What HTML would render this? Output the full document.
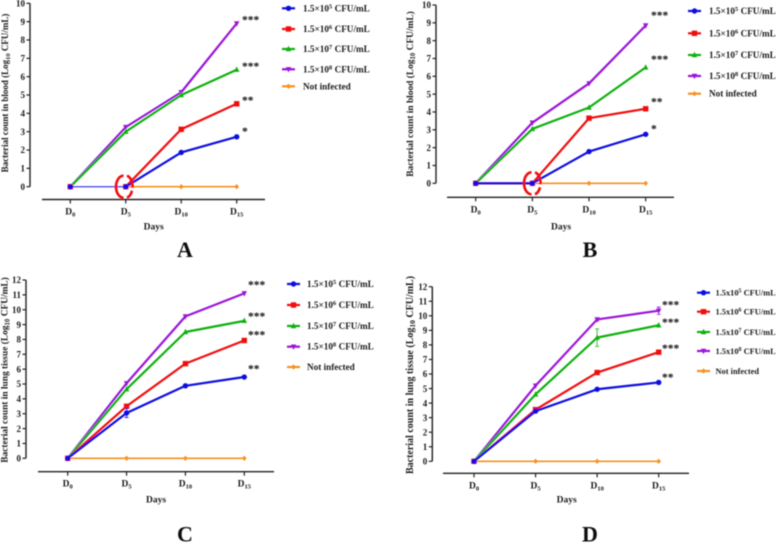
<!DOCTYPE html>
<html lang="en">
<head>
<meta charset="utf-8">
<title>Bacterial count in blood and lung tissue</title>
<style>
html,body{margin:0;padding:0;background:#fff;}
svg{display:block;width:777px;height:543px;}
text{font-family:"Liberation Serif",serif;font-weight:bold;fill:#1c1c1c;}
</style>
</head>
<body>
<svg id="figure" xmlns="http://www.w3.org/2000/svg" width="777" height="543" viewBox="0 0 777 543">
<defs><filter id="soft" x="-5%" y="-5%" width="110%" height="110%"><feGaussianBlur stdDeviation="0.4"/></filter></defs>
<g id="root" filter="url(#soft)"></g>
</svg>
<script>
const days = ['0', '5', '10', '15'];
const seriesNames = ['1.5e5', '1.5e6', '1.5e7', '1.5e8', 'not-infected'];
const exponents = ['5', '6', '7', '8'];

const panelAOrange = [0, 0, 0, 0];
const panelAPurple = [0, 3.25, 5.15, 8.9];
const panelAGreen = [0, 3, 5, 6.38];
const panelARed = [0, 0, 3.13, 4.52];
const panelABlue = [0, 0, 1.87, 2.72];
const panelAStarLevels = [3, 4.7, 6.55, 9.1];

const panelBOrange = [0, 0, 0, 0];
const panelBPurple = [0, 3.4, 5.6, 8.85];
const panelBGreen = [0, 3.05, 4.25, 6.5];
const panelBRed = [0, 0, 3.65, 4.18];
const panelBBlue = [0, 0, 1.78, 2.75];
const panelBStarLevels = [3.05, 4.55, 6.95, 9.4];

const panelCOrange = [0, 0, 0, 0];
const panelCPurple = [0, 5.05, 9.55, 11.1];
const panelCGreen = [0, 4.65, 8.5, 9.25];
const panelCRed = [0, 3.5, 6.37, 7.93];
const panelCBlue = [0, 3.05, 4.88, 5.47];
const panelCBlueError = [0, 0.3, 0.05, 0.05];
const panelCStarLevels = [6, 8.3, 9.55, 11.65];

const panelDOrange = [0, 0, 0, 0];
const panelDPurple = [0, 5.2, 9.75, 10.35];
const panelDPurpleError = [0, 0.05, 0.1, 0.25];
const panelDGreen = [0, 4.6, 8.5, 9.35];
const panelDGreenError = [0, 0.05, 0.6, 0.05];
const panelDRed = [0, 3.55, 6.1, 7.5];
const panelDBlue = [0, 3.45, 4.95, 5.42];
const panelDStarLevels = [5.75, 7.75, 9.55, 10.75];

const colors = {blue: '#1010e0', red: '#f01010', green: '#10b010', purple: '#9a18d8', orange: '#f79020', axis: '#222222'};
const NS = 'http://www.w3.org/2000/svg';
const root = document.getElementById('root');

function make(tag, attrs, parent) {
  const el = document.createElementNS(NS, tag);
  for (const k in attrs) el.setAttribute(k, attrs[k]);
  (parent || root).appendChild(el);
  return el;
}

function marker(group, kind, x, y, color) {
  const r = 2.7;
  let el;
  if (kind === 'circle') el = make('circle', {cx: x, cy: y, r: r, fill: color}, group);
  if (kind === 'square') el = make('rect', {x: x - r, y: y - r, width: 2 * r, height: 2 * r, fill: color}, group);
  if (kind === 'up') el = make('polygon', {points: `${x},${y - r - 0.5} ${x + r},${y + r - 0.5} ${x - r},${y + r - 0.5}`, fill: color}, group);
  if (kind === 'down') el = make('polygon', {points: `${x},${y + r + 0.5} ${x + r},${y - r + 0.5} ${x - r},${y - r + 0.5}`, fill: color}, group);
  if (kind === 'diamond') el = make('polygon', {points: `${x},${y - r} ${x + r - 0.4},${y} ${x},${y + r} ${x - r + 0.4},${y}`, fill: color}, group);
  
  
}

function drawPanel(cfg) {
  const panel = make('g', {});
  
  
  const xScale = i => cfg.x0 + i * (cfg.x3 - cfg.x0) / (days.length - 1);
  const yScale = v => cfg.y0 - v * (cfg.y0 - cfg.yTop) / cfg.yMax;

  const yAxis = make('line', {x1: cfg.axisX, x2: cfg.axisX, y1: cfg.yTop, y2: cfg.y0, stroke: colors.axis, 'stroke-width': 1.4}, panel);
  
  
  for (let v = 0; v <= cfg.yMax; v++) {
    const tick = make('line', {x1: cfg.axisX - 3.5, x2: cfg.axisX, y1: yScale(v), y2: yScale(v), stroke: colors.axis, 'stroke-width': 1.2}, panel);
    
    
    const label = make('text', {x: cfg.axisX - 5, y: yScale(v) + 3.2, 'text-anchor': 'end', 'font-size': 9}, panel);
    label.textContent = String(v);
    
    
  }

  const xAxis = make('line', {x1: cfg.xAxisStart, x2: cfg.xAxisEnd, y1: cfg.xAxisY, y2: cfg.xAxisY, stroke: colors.axis, 'stroke-width': 1.4}, panel);
  
  
  days.forEach((d, i) => {
    const tick = make('line', {x1: xScale(i), x2: xScale(i), y1: cfg.xAxisY, y2: cfg.xAxisY + 4, stroke: colors.axis, 'stroke-width': 1.2}, panel);
    
    
    const label = make('text', {x: xScale(i), y: cfg.xAxisY + 15, 'text-anchor': 'middle', 'font-size': 9.5}, panel);
    
    
    make('tspan', {}, label).textContent = 'D';
    make('tspan', {dy: 2, 'font-size': 6.5}, label).textContent = d;
  });

  const xTitle = make('text', {x: cfg.daysX, y: cfg.daysY, 'text-anchor': 'middle', 'font-size': 9.5}, panel);
  xTitle.textContent = 'Days';
  
  

  const yTitle = make('text', {transform: `translate(${cfg.titleX},${cfg.titleY}) rotate(-90)`, 'text-anchor': 'middle', 'font-size': cfg.titleSize}, panel);
  
  
  make('tspan', {}, yTitle).textContent = 'Bacterial count in ' + cfg.tissue + ' (Log';
  make('tspan', {dy: 2, 'font-size': cfg.titleSize - 2.5}, yTitle).textContent = '10';
  make('tspan', {dy: -2}, yTitle).textContent = ' CFU/mL)';

  cfg.series.forEach(s => {
    const g = make('g', {}, panel);
    
    
    const flatStart = cfg.thinFirst && s.values[0] === s.values[1];
    const first = flatStart ? 1 : 0;
    const pts = s.values.map((v, i) => xScale(i) + ',' + yScale(v)).slice(first).join(' ');
    const line = make('polyline', {points: pts, fill: 'none', stroke: s.color, 'stroke-width': s.width || 2.2, 'stroke-linejoin': 'round'}, g);
    
    
    if (flatStart && s.color === colors.blue) {
      const thin = make('line', {x1: xScale(0), x2: xScale(1), y1: yScale(s.values[0]), y2: yScale(s.values[1]), stroke: s.color, 'stroke-width': 1}, g);
      
      
    }
    if (s.error) s.error.forEach((e, i) => {
      if (e < 0.1) return;
      const x = xScale(i);
      const hi = yScale(s.values[i] + e);
      const lo = yScale(s.values[i] - e);
      const bar = make('path', {d: `M${x},${hi}V${lo}M${x - 2},${hi}H${x + 2}M${x - 2},${lo}H${x + 2}`, fill: 'none', stroke: s.color, 'stroke-width': 0.8}, g);
      
      
    });
    s.values.forEach((v, i) => marker(g, s.kind, xScale(i), yScale(v), s.color));
  });

  cfg.stars.forEach((txt, i) => {
    const star = make('text', {x: cfg.starX, y: yScale(cfg.starLevels[i]) + 3.5, 'font-size': 11.5}, panel);
    star.textContent = txt;
    star.style.fill = '#111';
    
    
  });

  cfg.legendOrder.forEach((s, i) => {
    const y = cfg.legendY[i];
    const entry = make('g', {}, panel);
    
    
    make('line', {x1: cfg.swatchX, x2: cfg.swatchX + 13, y1: y, y2: y, stroke: s.color, 'stroke-width': 2.2}, entry);
    marker(entry, s.kind, cfg.swatchX + 6.5, y, s.color);
    const t = make('text', {x: cfg.swatchX + cfg.textGap, y: y + 3, 'font-size': cfg.legendSize}, entry);
    if (i < exponents.length) {
      make('tspan', {}, t).textContent = '1.5' + cfg.times + '10';
      make('tspan', {dy: -3, 'font-size': cfg.legendSize - 2.5}, t).textContent = exponents[i];
      make('tspan', {dy: 3}, t).textContent = ' CFU/mL';
    } else {
      t.textContent = 'Not infected';
    }
  });

  const letter = make('text', {x: cfg.letterX, y: cfg.letterY, 'text-anchor': 'middle', 'font-size': 22}, panel);
  letter.textContent = cfg.letter;
  letter.style.fill = '#111';
  
  

  if (cfg.circleX) {
    const cx = cfg.circleX;
    const cy = yScale(0);
    const arcs = `M${cx - 1.5},${cy - 11}A7.5,11 0 0 0 ${cx - 1.5},${cy + 11}M${cx + 2},${cy - 11}A7.5,11 0 0 1 ${cx + 7.5},${cy + 1}M${cx + 7},${cy + 4}A7.5,11 0 0 1 ${cx + 2},${cy + 11}`;
    const c = make('path', {d: arcs, fill: 'none', stroke: '#ee1111', 'stroke-width': 2.6}, panel);
    
    
  }
}

function seriesOf(o, p, g, r, b, extra) {
  const e = extra || {};
  const orange = {name: seriesNames[4], color: colors.orange, kind: 'diamond', values: o, width: 1.6};
  const purple = {name: seriesNames[3], color: colors.purple, kind: 'down', values: p, error: e.purple};
  const green = {name: seriesNames[2], color: colors.green, kind: 'up', values: g, error: e.green};
  const red = {name: seriesNames[1], color: colors.red, kind: 'square', values: r};
  const blue = {name: seriesNames[0], color: colors.blue, kind: 'circle', values: b, error: e.blue};
  return {draw: [orange, purple, green, red, blue], legend: [blue, red, green, purple, orange]};
}

const sA = seriesOf(panelAOrange, panelAPurple, panelAGreen, panelARed, panelABlue);
const sB = seriesOf(panelBOrange, panelBPurple, panelBGreen, panelBRed, panelBBlue);
const sC = seriesOf(panelCOrange, panelCPurple, panelCGreen, panelCRed, panelCBlue, {blue: panelCBlueError});
const sD = seriesOf(panelDOrange, panelDPurple, panelDGreen, panelDRed, panelDBlue, {purple: panelDPurpleError, green: panelDGreenError});
const starTextsAB = ['*', '**', '***', '***'];
const starTextsCD = ['**', '***', '***', '***'];

drawPanel({letter: 'A', tissue: 'blood', yMax: 10, axisX: 30, yTop: 3.3, y0: 186.7, xAxisY: 199.5, xAxisStart: 42, xAxisEnd: 265,
  x0: 70.3, x3: 236.7, daysX: 153.7, daysY: 229.5, titleX: 8, titleY: 93, titleSize: 9,
  series: sA.draw, legendOrder: sA.legend, legendY: [8.3, 29, 49, 69.3, 86.3], swatchX: 282, textGap: 21, legendSize: 9.2, times: '×',
  stars: starTextsAB, starLevels: panelAStarLevels, starX: 242, letterX: 185, letterY: 257, circleX: 125, thinFirst: true});

drawPanel({letter: 'B', tissue: 'blood', yMax: 10, axisX: 436, yTop: 5, y0: 183.3, xAxisY: 197.3, xAxisStart: 447, xAxisEnd: 674,
  x0: 475.7, x3: 645.7, daysX: 561, daysY: 229.5, titleX: 413, titleY: 94, titleSize: 9.4,
  series: sB.draw, legendOrder: sB.legend, legendY: [11, 33.3, 55, 76, 93.7], swatchX: 688, textGap: 21, legendSize: 9.2, times: '×',
  stars: starTextsAB, starLevels: panelBStarLevels, starX: 651, letterX: 590, letterY: 257, circleX: 533});

drawPanel({letter: 'C', tissue: 'lung tissue', yMax: 12, axisX: 26, yTop: 280, y0: 458.3, xAxisY: 471.7, xAxisStart: 38, xAxisEnd: 274,
  x0: 67.7, x3: 244.3, daysX: 156, daysY: 502.5, titleX: 7.5, titleY: 370, titleSize: 9.4,
  series: sC.draw, legendOrder: sC.legend, legendY: [284, 305, 326, 346.7, 367], swatchX: 287, textGap: 20, legendSize: 9.2, times: '×',
  stars: starTextsCD, starLevels: panelCStarLevels, starX: 248, letterX: 185, letterY: 541.5});

drawPanel({letter: 'D', tissue: 'lung tissue', yMax: 12, axisX: 432.3, yTop: 286.7, y0: 461.3, xAxisY: 473.3, xAxisStart: 443, xAxisEnd: 689,
  x0: 474, x3: 658.7, daysX: 566.7, daysY: 502.5, titleX: 413, titleY: 375, titleSize: 10,
  series: sD.draw, legendOrder: sD.legend, legendY: [292.7, 311.7, 332, 351, 371], swatchX: 697, textGap: 18.5, legendSize: 8.4, times: 'x',
  stars: starTextsCD, starLevels: panelDStarLevels, starX: 662, letterX: 590, letterY: 541.5});
</script>
</body>
</html>
